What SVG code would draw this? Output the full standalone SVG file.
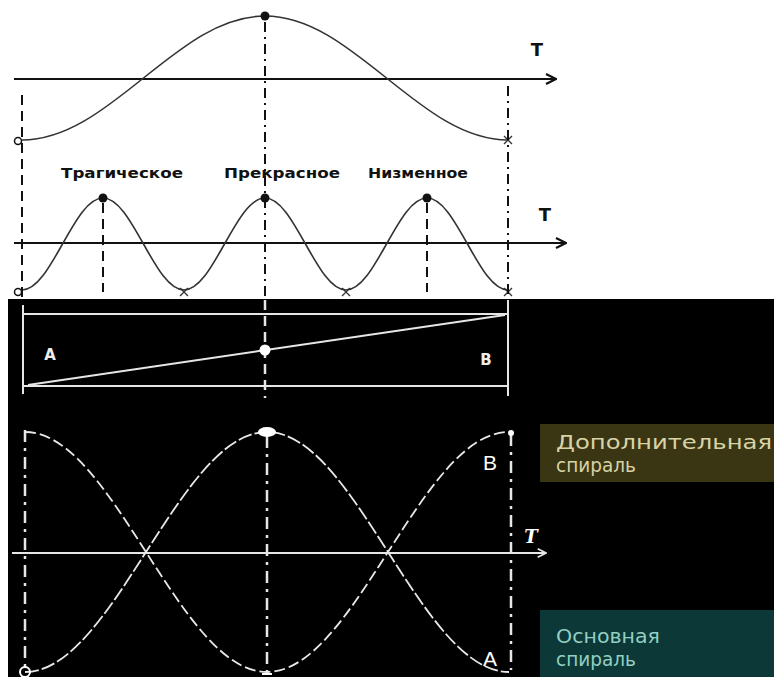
<svg xmlns="http://www.w3.org/2000/svg" width="774" height="677" viewBox="0 0 774 677">
<style>
.axis{stroke:#111;stroke-width:2;fill:none}
.curve{stroke:#333;stroke-width:1.6;fill:none}
.dash{stroke:#111;stroke-width:2;fill:none;stroke-dasharray:10 6}
.dashdot{stroke:#111;stroke-width:2;fill:none;stroke-dasharray:10 5 2 5}
.lbl{font-family:"DejaVu Sans","Liberation Sans",sans-serif;font-weight:bold;font-size:14px;fill:#111}
.tl{font-family:"DejaVu Sans","Liberation Sans",sans-serif;font-weight:bold;font-size:18px;fill:#111}
.wline{stroke:#e6e6e6;stroke-width:2;fill:none}
.wdashdot{stroke:#e6e6e6;stroke-width:2.5;fill:none;stroke-dasharray:12 6 3 6}
.wdash{stroke:#e6e6e6;stroke-width:2.5;fill:none;stroke-dasharray:10 6}
.cross{stroke:#333;stroke-width:1.3;fill:none}
.side{font-family:"DejaVu Sans",sans-serif;font-size:19px}
</style>
<defs>
<marker id="arrB" viewBox="0 0 12 12" refX="11" refY="6" markerWidth="12" markerHeight="12" markerUnits="userSpaceOnUse" orient="auto">
<path d="M1,1 L11,6 L1,11" fill="none" stroke="#111" stroke-width="2.2"/>
</marker>
<marker id="arrW" viewBox="0 0 12 12" refX="11" refY="6" markerWidth="10" markerHeight="10" markerUnits="userSpaceOnUse" orient="auto">
<path d="M1,1 L11,6 L1,11" fill="none" stroke="#e6e6e6" stroke-width="2"/>
</marker>
</defs>
<rect x="0" y="0" width="774" height="677" fill="#ffffff"/>

<g id="graph1">
<line class="axis" x1="14" y1="79" x2="556" y2="79" marker-end="url(#arrB)"/>
<text class="tl" x="537" y="56" text-anchor="middle">T</text>
<path class="curve" d="M22,140 C66,140 103.9,109.8 143.5,78 C183.1,46.2 221,16 265,16 C309,16 346.9,46.2 386.5,78 C426.1,109.8 464,140 508,140"/>
<circle cx="265" cy="16" r="4.5" fill="#111"/>
<circle cx="18" cy="141" r="3.5" fill="#fff" stroke="#111" stroke-width="1.5"/>
<path class="cross" d="M504,136 L512,144 M512,136 L504,144"/>
</g>

<g id="graph2">
<line class="axis" x1="14" y1="243" x2="566" y2="243" marker-end="url(#arrB)"/>
<text class="tl" x="545" y="221" text-anchor="middle">T</text>
<text class="lbl" x="122" y="178" text-anchor="middle" textLength="122" lengthAdjust="spacingAndGlyphs">Трагическое</text>
<text class="lbl" x="282" y="178" text-anchor="middle" textLength="116" lengthAdjust="spacingAndGlyphs">Прекрасное</text>
<text class="lbl" x="418" y="178" text-anchor="middle" textLength="100" lengthAdjust="spacingAndGlyphs">Низменное</text>
<path class="curve" d="M22,290 C36.7,290 49.3,267.6 62.5,244 C75.7,220.4 88.3,198 103,198 C117.7,198 130.3,220.4 143.5,244 C156.7,267.6 169.3,290 184,290 C198.7,290 211.3,267.6 224.5,244 C237.7,220.4 250.3,198 265,198 C279.7,198 292.3,220.4 305.5,244 C318.7,267.6 331.3,290 346,290 C360.7,290 373.3,267.6 386.5,244 C399.7,220.4 412.3,198 427,198 C441.7,198 454.3,220.4 467.5,244 C480.7,267.6 493.3,290 508,290"/>
<circle cx="103" cy="198" r="4.5" fill="#111"/>
<circle cx="265" cy="198" r="4.5" fill="#111"/>
<circle cx="427" cy="198" r="4.5" fill="#111"/>
<circle cx="18" cy="292" r="3.5" fill="#fff" stroke="#111" stroke-width="1.5"/>
<path class="cross" d="M180,288 L188,296 M188,288 L180,296"/>
<path class="cross" d="M342,288 L350,296 M350,288 L342,296"/>
<path class="cross" d="M504,288 L512,296 M512,288 L504,296"/>
</g>

<g id="guides-top">
<line class="dash" x1="22" y1="95" x2="22" y2="297"/>
<line class="dashdot" x1="265" y1="22" x2="265" y2="297"/>
<line class="dashdot" x1="508" y1="86" x2="508" y2="297"/>
<line class="dash" x1="103" y1="203" x2="103" y2="292"/>
<line class="dash" x1="427" y1="203" x2="427" y2="292"/>
</g>

<rect x="8" y="299" width="766" height="378" fill="#000"/>

<g id="segment-AB">
<line class="wline" x1="23" y1="314" x2="508" y2="314"/>
<line class="wline" x1="23" y1="386" x2="508" y2="386"/>
<line class="wline" x1="23" y1="305" x2="23" y2="394"/>
<line class="wline" x1="508" y1="300" x2="508" y2="396"/>
<line class="wline" x1="28" y1="385" x2="505" y2="315" stroke-width="2.5"/>
<line class="wdash" x1="265" y1="300" x2="265" y2="398"/>
<circle cx="265" cy="350" r="5.5" fill="#fff"/>
<text x="50" y="360" text-anchor="middle" font-family="DejaVu Sans, sans-serif" font-weight="bold" font-size="15" fill="#eee">A</text>
<text x="486" y="365" text-anchor="middle" font-family="DejaVu Sans, sans-serif" font-weight="bold" font-size="15" fill="#eee">B</text>
</g>

<g id="spirals">
<line class="wline" x1="12" y1="553" x2="546" y2="553" marker-end="url(#arrW)"/>
<text x="531" y="543" text-anchor="middle" font-family="DejaVu Serif, serif" font-weight="bold" font-style="italic" font-size="18" fill="#fff">T</text>
<line class="wdashdot" x1="25" y1="430" x2="25" y2="668"/>
<line class="wdashdot" x1="267" y1="436" x2="267" y2="677"/>
<line class="wdashdot" x1="511" y1="434" x2="511" y2="670"/>
<path d="M25,672 C68.8,672 106.5,613.5 146,552 C185.5,490.5 223.2,432 267,432 C310.8,432 348.5,490.5 388,552 C427.5,613.5 465.2,672 509,672" fill="none" stroke="#e8e8e8" stroke-width="1.8" stroke-dasharray="14 3"/>
<path d="M25,432 C68.8,432 106.5,490.5 146,552 C185.5,613.5 223.2,672 267,672 C310.8,672 348.5,613.5 388,552 C427.5,490.5 465.2,432 509,432" fill="none" stroke="#e8e8e8" stroke-width="1.8" stroke-dasharray="11 4"/>
<ellipse cx="267" cy="432" rx="9" ry="5" fill="#fff"/>
<circle cx="511" cy="433" r="3" fill="#fff"/>
<circle cx="25" cy="672" r="5" fill="none" stroke="#fff" stroke-width="2"/>
<path d="M262,674 L272,674" stroke="#fff" stroke-width="2"/>
<text x="483" y="470" font-family="Liberation Sans, sans-serif" font-size="21" fill="#fff">B</text>
<text x="483" y="666" font-family="Liberation Sans, sans-serif" font-size="21" fill="#fff">A</text>
</g>

<g id="label-additional">
<rect x="540" y="424" width="234" height="58" fill="#3a3512"/>
<text class="side" x="556" y="449" fill="#d8d3a6" textLength="216" lengthAdjust="spacingAndGlyphs">Дополнительная</text>
<text class="side" x="556" y="472" fill="#d8d3a6" textLength="80" lengthAdjust="spacingAndGlyphs">спираль</text>
</g>

<g id="label-main">
<rect x="540" y="610" width="234" height="67" fill="#0c3838"/>
<text class="side" x="556" y="643" fill="#93cfc2" textLength="104" lengthAdjust="spacingAndGlyphs">Основная</text>
<text class="side" x="556" y="666" fill="#93cfc2" textLength="80" lengthAdjust="spacingAndGlyphs">спираль</text>
</g>
</svg>
